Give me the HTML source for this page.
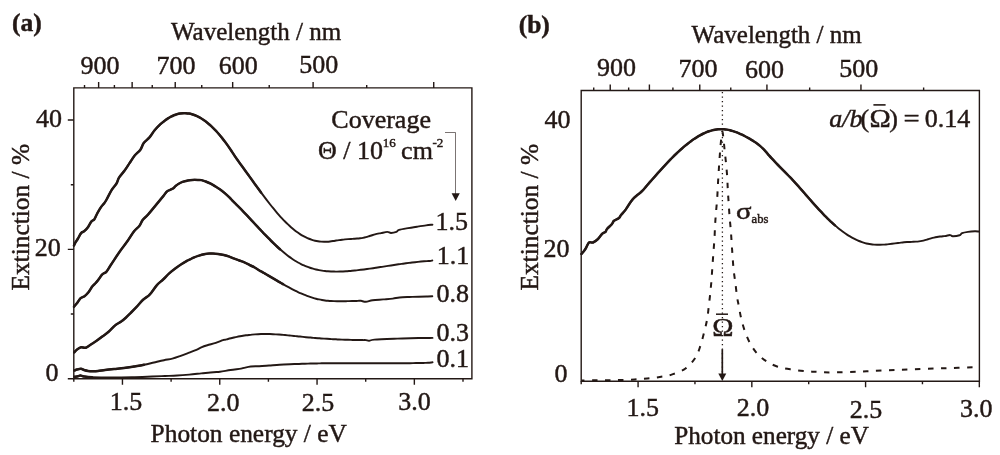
<!DOCTYPE html><html><head><meta charset="utf-8"><style>html,body{margin:0;padding:0;background:#fff;width:1000px;height:455px;overflow:hidden}svg{display:block;-webkit-font-smoothing:antialiased;will-change:transform}text{font-family:"Liberation Serif",serif;fill:#231815;stroke:#231815;stroke-width:0.45px}</style></head><body>
<svg width="1000" height="455" viewBox="0 0 1000 455">
<rect width="1000" height="455" fill="#fff"/>
<text x="11.90" y="30.70" font-size="25.50" font-weight="bold">(a)</text>
<text x="171.00" y="40.00" font-size="25.00">Wavelength / nm</text>
<text x="80.40" y="74.40" font-size="26.00">900</text>
<text x="156.50" y="74.40" font-size="26.00">700</text>
<text x="218.70" y="74.10" font-size="26.00">600</text>
<text x="299.20" y="73.20" font-size="26.00">500</text>
<path d="M73.80,87.90 H471.90 V378.80 H73.80 Z" fill="none" stroke="#231815" stroke-width="1.4"/>
<path d="M84.52,87.90 V84.90 M98.63,87.90 V81.90 M114.40,87.90 V84.90 M132.14,87.90 V81.90 M152.25,87.90 V84.90 M175.23,87.90 V81.90 M201.74,87.90 V84.90 M232.67,87.90 V81.90 M269.23,87.90 V84.90 M313.10,87.90 V81.90 M366.71,87.90 V84.90 M433.73,87.90 V81.90 M73.80,378.80 V381.80 M122.45,378.80 V384.80 M171.10,378.80 V381.80 M219.75,378.80 V384.80 M268.40,378.80 V381.80 M317.05,378.80 V384.80 M365.70,378.80 V381.80 M414.35,378.80 V384.80 M463.00,378.80 V381.80 M73.80,378.75 H67.80 M73.80,314.07 H70.80 M73.80,249.40 H67.80 M73.80,184.72 H70.80 M73.80,120.05 H67.80" fill="none" stroke="#231815" stroke-width="1.4"/>
<text x="36.10" y="127.10" font-size="26.00">40</text>
<text x="34.80" y="256.30" font-size="26.00">20</text>
<text x="45.50" y="381.20" font-size="26.00">0</text>
<text x="109.70" y="410.20" font-size="26.00">1.5</text>
<text x="207.00" y="411.00" font-size="26.00">2.0</text>
<text x="301.80" y="411.00" font-size="26.00">2.5</text>
<text x="398.30" y="409.80" font-size="26.00">3.0</text>
<text x="150.60" y="441.90" font-size="25.40">Photon energy / eV</text>
<text x="0.00" y="0.00" font-size="25.40" transform="translate(28.7,290.6) rotate(-90)">Extinction / %</text>
<path d="M74.00,245.50 C74.27,244.95 74.93,243.37 75.60,242.20 C76.27,241.03 77.08,240.02 78.00,238.50 C78.92,236.98 80.08,234.30 81.10,233.10 C82.12,231.90 83.00,232.22 84.10,231.30 C85.20,230.38 86.50,229.22 87.70,227.60 C88.90,225.98 90.18,223.00 91.30,221.60 C92.42,220.20 93.38,220.62 94.40,219.20 C95.42,217.78 96.30,215.12 97.40,213.10 C98.50,211.08 99.90,208.70 101.00,207.10 C102.10,205.50 103.07,204.77 104.00,203.50 C104.93,202.23 105.33,201.73 106.60,199.50 C107.87,197.27 109.95,192.77 111.60,190.10 C113.25,187.43 115.27,185.57 116.50,183.50 C117.73,181.43 117.62,179.90 119.00,177.70 C120.38,175.50 123.02,172.77 124.80,170.30 C126.58,167.83 128.05,165.37 129.70,162.90 C131.35,160.43 132.92,157.70 134.70,155.50 C136.48,153.30 138.90,151.77 140.40,149.70 C141.90,147.63 142.18,145.15 143.70,143.10 C145.22,141.05 147.68,139.53 149.50,137.40 C151.32,135.27 152.78,132.50 154.60,130.30 C156.42,128.10 158.67,125.83 160.40,124.20 C162.13,122.57 163.73,121.47 165.00,120.50 C166.27,119.53 167.00,119.03 168.00,118.39 C169.00,117.74 170.00,117.16 171.00,116.63 C172.00,116.10 173.00,115.63 174.00,115.22 C175.00,114.81 176.00,114.46 177.00,114.18 C178.00,113.89 179.00,113.66 180.00,113.49 C181.00,113.33 182.00,113.22 183.00,113.17 C184.00,113.12 185.00,113.13 186.00,113.19 C187.00,113.26 188.00,113.38 189.00,113.55 C190.00,113.73 191.00,113.97 192.00,114.25 C193.00,114.54 194.00,114.88 195.00,115.27 C196.00,115.67 197.00,116.12 198.00,116.61 C199.00,117.11 200.00,117.66 201.00,118.26 C202.00,118.87 203.00,119.52 204.00,120.22 C205.00,120.92 206.00,121.67 207.00,122.47 C208.00,123.26 209.00,124.11 210.00,125.00 C211.00,125.89 212.00,126.83 213.00,127.82 C214.00,128.80 215.00,129.83 216.00,130.90 C217.00,131.97 218.00,133.09 219.00,134.25 C220.00,135.41 221.00,136.62 222.00,137.86 C223.00,139.11 224.00,140.40 225.00,141.73 C226.00,143.07 227.00,144.45 228.00,145.87 C229.00,147.29 230.00,148.77 231.00,150.27 C232.00,151.77 233.00,153.37 234.00,154.87 C235.00,156.37 236.00,157.84 237.00,159.28 C238.00,160.71 239.00,162.09 240.00,163.47 C241.00,164.86 242.00,166.21 243.00,167.59 C244.00,168.96 245.00,170.34 246.00,171.72 C247.00,173.10 248.00,174.49 249.00,175.88 C250.00,177.27 251.00,178.66 252.00,180.04 C253.00,181.43 254.00,182.82 255.00,184.20 C256.00,185.58 257.00,186.96 258.00,188.33 C259.00,189.70 260.00,191.06 261.00,192.42 C262.00,193.77 263.00,195.11 264.00,196.44 C265.00,197.77 266.00,199.09 267.00,200.39 C268.00,201.68 269.00,202.97 270.00,204.24 C271.00,205.50 272.00,206.75 273.00,207.97 C274.00,209.20 275.00,210.40 276.00,211.58 C277.00,212.76 278.00,213.91 279.00,215.04 C280.00,216.17 281.00,217.27 282.00,218.34 C283.00,219.41 284.00,220.46 285.00,221.47 C286.00,222.48 287.00,223.46 288.00,224.41 C289.00,225.36 290.00,226.27 291.00,227.15 C292.00,228.03 293.00,228.88 294.00,229.69 C295.00,230.49 296.00,231.26 297.00,232.00 C298.00,232.73 299.00,233.42 300.00,234.07 C301.00,234.72 302.00,235.33 303.00,235.90 C304.00,236.46 305.00,236.98 306.00,237.46 C307.00,237.95 308.00,238.38 309.00,238.78 C310.00,239.18 311.00,239.53 312.00,239.85 C313.00,240.16 314.00,240.44 315.00,240.68 C316.00,240.91 317.00,241.11 318.00,241.27 C319.00,241.43 320.00,241.55 321.00,241.64 C322.00,241.72 323.00,241.77 324.00,241.78 C325.00,241.80 326.00,241.77 327.00,241.72 C328.00,241.66 329.00,241.57 330.00,241.46 C331.00,241.35 332.00,241.20 333.00,241.05 C334.00,240.91 335.00,240.74 336.00,240.58 C337.00,240.43 338.00,240.26 339.00,240.11 C340.00,239.97 341.00,239.83 342.00,239.71 C343.00,239.59 344.00,239.49 345.00,239.40 C346.00,239.30 347.00,239.22 348.00,239.15 C349.00,239.08 350.00,239.01 351.00,238.95 C352.00,238.89 353.00,238.84 354.00,238.78 C355.00,238.72 356.00,238.67 357.00,238.59 C358.00,238.51 359.00,238.43 360.00,238.31 C361.00,238.19 362.00,238.05 363.00,237.86 C364.00,237.67 365.00,237.44 366.00,237.18 C367.00,236.91 368.00,236.59 369.00,236.28 C370.00,235.96 371.00,235.61 372.00,235.29 C373.00,234.97 374.00,234.63 375.00,234.35 C376.00,234.06 377.00,233.79 378.00,233.59 C379.00,233.39 379.45,233.42 381.00,233.13 C382.55,232.85 385.63,231.92 387.30,231.90 C388.97,231.88 389.48,233.00 391.00,233.00 C392.52,233.00 395.05,232.42 396.40,231.90 C397.75,231.38 397.15,230.53 399.10,229.90 C401.05,229.27 405.10,228.63 408.10,228.10 C411.10,227.57 414.10,227.15 417.10,226.70 C420.10,226.25 423.55,225.73 426.10,225.40 C428.65,225.07 431.35,224.82 432.40,224.70" fill="none" stroke="#231815" stroke-width="1.95" stroke-linejoin="round" stroke-linecap="round"/>
<path d="M74.00,245.50 C74.27,244.95 74.93,243.37 75.60,242.20 C76.27,241.03 77.08,240.02 78.00,238.50 C78.92,236.98 80.08,234.30 81.10,233.10 C82.12,231.90 83.00,232.22 84.10,231.30 C85.20,230.38 86.50,229.22 87.70,227.60 C88.90,225.98 90.18,223.00 91.30,221.60 C92.42,220.20 93.38,220.62 94.40,219.20 C95.42,217.78 96.30,215.12 97.40,213.10 C98.50,211.08 99.90,208.70 101.00,207.10 C102.10,205.50 103.07,204.77 104.00,203.50 C104.93,202.23 105.33,201.73 106.60,199.50 C107.87,197.27 109.95,192.77 111.60,190.10 C113.25,187.43 115.27,185.57 116.50,183.50 C117.73,181.43 117.62,179.90 119.00,177.70 C120.38,175.50 123.02,172.77 124.80,170.30 C126.58,167.83 128.05,165.37 129.70,162.90 C131.35,160.43 132.92,157.70 134.70,155.50 C136.48,153.30 138.90,151.77 140.40,149.70 C141.90,147.63 142.18,145.15 143.70,143.10 C145.22,141.05 147.68,139.53 149.50,137.40 C151.32,135.27 152.78,132.50 154.60,130.30 C156.42,128.10 158.67,125.83 160.40,124.20 C162.13,122.57 163.73,121.47 165.00,120.50 C166.27,119.53 167.00,119.03 168.00,118.39 C169.00,117.74 170.00,117.16 171.00,116.63 C172.00,116.10 173.00,115.63 174.00,115.22 C175.00,114.81 176.00,114.46 177.00,114.18 C178.00,113.89 179.00,113.66 180.00,113.49 C181.00,113.33 182.00,113.22 183.00,113.17 C184.00,113.12 185.00,113.13 186.00,113.19 C187.00,113.26 188.00,113.38 189.00,113.55 C190.00,113.73 191.00,113.97 192.00,114.25 C193.00,114.54 194.00,114.88 195.00,115.27 C196.00,115.67 197.00,116.12 198.00,116.61 C199.00,117.11 200.00,117.66 201.00,118.26 C202.00,118.87 203.00,119.52 204.00,120.22 C205.00,120.92 206.00,121.67 207.00,122.47 C208.00,123.26 209.00,124.11 210.00,125.00 C211.00,125.89 212.00,126.83 213.00,127.82 C214.00,128.80 215.00,129.83 216.00,130.90 C217.00,131.97 218.00,133.09 219.00,134.25 C220.00,135.41 221.00,136.62 222.00,137.86 C223.00,139.11 224.00,140.40 225.00,141.73 C226.00,143.07 227.00,144.45 228.00,145.87 C229.00,147.29 230.00,148.77 231.00,150.27 C232.00,151.77 233.00,153.37 234.00,154.87 C235.00,156.37 236.00,157.84 237.00,159.28 C238.00,160.71 239.00,162.09 240.00,163.47 C241.00,164.86 242.00,166.21 243.00,167.59 C244.00,168.96 245.00,170.34 246.00,171.72 C247.00,173.10 248.00,174.49 249.00,175.88 C250.00,177.27 251.00,178.66 252.00,180.04 C253.00,181.43 254.00,182.82 255.00,184.20 C256.00,185.58 257.00,186.96 258.00,188.33 C259.00,189.70 260.00,191.06 261.00,192.42" fill="none" stroke="#231815" stroke-width="2.50" stroke-linejoin="round" stroke-linecap="round"/>
<path d="M74.00,306.70 C74.55,306.05 76.20,304.22 77.30,302.80 C78.40,301.38 79.40,299.30 80.60,298.20 C81.80,297.10 83.18,297.20 84.50,296.20 C85.82,295.20 87.18,293.85 88.50,292.20 C89.82,290.55 91.20,287.83 92.40,286.30 C93.60,284.77 94.70,284.10 95.70,283.00 C96.70,281.90 97.30,281.13 98.40,279.70 C99.50,278.27 100.98,275.72 102.30,274.40 C103.62,273.08 104.97,273.23 106.30,271.80 C107.63,270.37 108.77,268.12 110.30,265.80 C111.83,263.48 113.80,260.45 115.50,257.90 C117.20,255.35 118.58,253.18 120.50,250.50 C122.42,247.82 124.73,245.02 127.00,241.80 C129.27,238.58 132.05,233.83 134.10,231.20 C136.15,228.57 137.85,227.90 139.30,226.00 C140.75,224.10 141.33,221.72 142.80,219.80 C144.27,217.88 145.23,217.78 148.10,214.50 C150.97,211.22 157.43,203.20 160.00,200.10 C162.57,197.00 162.33,197.35 163.50,195.90 C164.67,194.45 165.82,192.45 167.00,191.40 C168.18,190.35 169.53,190.13 170.60,189.60 C171.67,189.07 172.58,188.78 173.40,188.20 C174.22,187.62 174.68,186.80 175.50,186.10 C176.32,185.40 177.13,184.70 178.30,184.00 C179.47,183.30 180.87,182.50 182.50,181.90 C184.13,181.30 186.45,180.73 188.10,180.40 C189.75,180.07 190.75,179.98 192.40,179.90 C194.05,179.82 196.48,179.87 198.00,179.90 C199.52,179.93 200.22,179.83 201.50,180.10 C202.78,180.37 204.17,180.92 205.70,181.50 C207.23,182.08 209.17,182.83 210.70,183.60 C212.23,184.37 213.38,185.17 214.90,186.10 C216.42,187.03 218.17,188.03 219.80,189.20 C221.43,190.37 223.05,191.68 224.70,193.10 C226.35,194.52 228.48,196.51 229.70,197.70 C230.92,198.89 231.12,199.32 232.00,200.23 C232.88,201.13 234.00,202.15 235.00,203.13 C236.00,204.11 237.00,205.11 238.00,206.12 C239.00,207.13 240.00,208.15 241.00,209.18 C242.00,210.22 243.00,211.26 244.00,212.31 C245.00,213.36 246.00,214.42 247.00,215.48 C248.00,216.54 249.00,217.61 250.00,218.68 C251.00,219.75 252.00,220.83 253.00,221.90 C254.00,222.97 255.00,224.05 256.00,225.12 C257.00,226.19 258.00,227.26 259.00,228.33 C260.00,229.39 261.00,230.46 262.00,231.51 C263.00,232.57 264.00,233.62 265.00,234.65 C266.00,235.69 267.00,236.72 268.00,237.74 C269.00,238.76 270.00,239.77 271.00,240.76 C272.00,241.75 273.00,242.73 274.00,243.70 C275.00,244.66 276.00,245.61 277.00,246.54 C278.00,247.46 279.00,248.37 280.00,249.26 C281.00,250.15 282.00,251.02 283.00,251.86 C284.00,252.71 285.00,253.53 286.00,254.32 C287.00,255.12 288.00,255.89 289.00,256.63 C290.00,257.37 291.00,258.08 292.00,258.76 C293.00,259.45 294.00,260.10 295.00,260.72 C296.00,261.34 297.00,261.92 298.00,262.48 C299.00,263.03 300.00,263.56 301.00,264.05 C302.00,264.55 303.00,265.01 304.00,265.45 C305.00,265.89 306.00,266.30 307.00,266.68 C308.00,267.07 309.00,267.42 310.00,267.75 C311.00,268.08 312.00,268.39 313.00,268.67 C314.00,268.95 315.00,269.21 316.00,269.45 C317.00,269.68 318.00,269.89 319.00,270.09 C320.00,270.28 321.00,270.45 322.00,270.60 C323.00,270.76 324.00,270.89 325.00,271.00 C326.00,271.12 327.00,271.21 328.00,271.29 C329.00,271.37 330.00,271.44 331.00,271.49 C332.00,271.53 333.00,271.57 334.00,271.59 C335.00,271.61 336.00,271.61 337.00,271.60 C338.00,271.60 339.00,271.58 340.00,271.55 C341.00,271.52 342.00,271.48 343.00,271.43 C344.00,271.38 345.00,271.32 346.00,271.25 C347.00,271.19 348.00,271.11 349.00,271.03 C350.00,270.95 351.00,270.86 352.00,270.76 C353.00,270.67 354.00,270.57 355.00,270.47 C356.00,270.37 357.00,270.26 358.00,270.14 C359.00,270.03 360.00,269.91 361.00,269.79 C362.00,269.67 363.00,269.55 364.00,269.42 C365.00,269.29 366.00,269.16 367.00,269.02 C368.00,268.89 369.00,268.75 370.00,268.61 C371.00,268.47 372.00,268.33 373.00,268.18 C374.00,268.04 375.00,267.89 376.00,267.74 C377.00,267.59 378.00,267.44 379.00,267.29 C380.00,267.14 381.00,266.99 382.00,266.84 C383.00,266.68 384.00,266.53 385.00,266.38 C386.00,266.22 387.00,266.07 388.00,265.91 C389.00,265.76 390.00,265.61 391.00,265.45 C392.00,265.30 393.00,265.15 394.00,265.00 C395.00,264.85 396.00,264.70 397.00,264.55 C398.00,264.40 399.00,264.26 400.00,264.11 C401.00,263.97 402.00,263.83 403.00,263.69 C404.00,263.55 405.00,263.41 406.00,263.28 C407.00,263.15 408.00,263.02 409.00,262.89 C410.00,262.77 411.00,262.64 412.00,262.52 C413.00,262.40 414.00,262.29 415.00,262.18 C416.00,262.07 417.00,261.96 418.00,261.86 C419.00,261.76 420.00,261.66 421.00,261.57 C422.00,261.48 423.00,261.40 424.00,261.32 C425.00,261.24 426.00,261.17 427.00,261.10 C428.00,261.03 429.12,261.02 430.00,260.92 C430.88,260.82 431.92,260.57 432.30,260.50" fill="none" stroke="#231815" stroke-width="1.95" stroke-linejoin="round" stroke-linecap="round"/>
<path d="M74.00,306.70 C74.55,306.05 76.20,304.22 77.30,302.80 C78.40,301.38 79.40,299.30 80.60,298.20 C81.80,297.10 83.18,297.20 84.50,296.20 C85.82,295.20 87.18,293.85 88.50,292.20 C89.82,290.55 91.20,287.83 92.40,286.30 C93.60,284.77 94.70,284.10 95.70,283.00 C96.70,281.90 97.30,281.13 98.40,279.70 C99.50,278.27 100.98,275.72 102.30,274.40 C103.62,273.08 104.97,273.23 106.30,271.80 C107.63,270.37 108.77,268.12 110.30,265.80 C111.83,263.48 113.80,260.45 115.50,257.90 C117.20,255.35 118.58,253.18 120.50,250.50 C122.42,247.82 124.73,245.02 127.00,241.80 C129.27,238.58 132.05,233.83 134.10,231.20 C136.15,228.57 137.85,227.90 139.30,226.00 C140.75,224.10 141.33,221.72 142.80,219.80 C144.27,217.88 145.23,217.78 148.10,214.50 C150.97,211.22 157.43,203.20 160.00,200.10 C162.57,197.00 162.33,197.35 163.50,195.90 C164.67,194.45 165.82,192.45 167.00,191.40 C168.18,190.35 169.53,190.13 170.60,189.60 C171.67,189.07 172.58,188.78 173.40,188.20 C174.22,187.62 174.68,186.80 175.50,186.10 C176.32,185.40 177.13,184.70 178.30,184.00 C179.47,183.30 180.87,182.50 182.50,181.90 C184.13,181.30 186.45,180.73 188.10,180.40 C189.75,180.07 190.75,179.98 192.40,179.90 C194.05,179.82 196.48,179.87 198.00,179.90 C199.52,179.93 200.22,179.83 201.50,180.10 C202.78,180.37 204.17,180.92 205.70,181.50 C207.23,182.08 209.17,182.83 210.70,183.60 C212.23,184.37 213.38,185.17 214.90,186.10 C216.42,187.03 218.17,188.03 219.80,189.20 C221.43,190.37 223.05,191.68 224.70,193.10 C226.35,194.52 228.48,196.51 229.70,197.70 C230.92,198.89 231.12,199.32 232.00,200.23 C232.88,201.13 234.00,202.15 235.00,203.13 C236.00,204.11 237.00,205.11 238.00,206.12 C239.00,207.13 240.00,208.15 241.00,209.18 C242.00,210.22 243.00,211.26 244.00,212.31 C245.00,213.36 246.00,214.42 247.00,215.48 C248.00,216.54 249.00,217.61 250.00,218.68 C251.00,219.75 252.00,220.83 253.00,221.90 C254.00,222.97 255.00,224.05 256.00,225.12 C257.00,226.19 258.00,227.26 259.00,228.33 C260.00,229.39 261.00,230.46 262.00,231.51 C263.00,232.57 264.00,233.62 265.00,234.65 C266.00,235.69 267.00,236.72 268.00,237.74 C269.00,238.76 270.00,239.77 271.00,240.76 C272.00,241.75 273.00,242.73 274.00,243.70 C275.00,244.66 276.00,245.61 277.00,246.54 C278.00,247.46 279.00,248.37 280.00,249.26" fill="none" stroke="#231815" stroke-width="2.50" stroke-linejoin="round" stroke-linecap="round"/>
<path d="M74.30,352.30 C74.82,351.78 76.25,350.05 77.40,349.20 C78.55,348.35 79.80,347.45 81.20,347.20 C82.60,346.95 84.00,348.27 85.80,347.70 C87.60,347.13 90.20,344.95 92.00,343.80 C93.80,342.65 94.80,342.07 96.60,340.80 C98.40,339.53 100.75,337.75 102.80,336.20 C104.85,334.65 106.85,333.30 108.90,331.50 C110.95,329.70 113.05,327.07 115.10,325.40 C117.15,323.73 119.42,322.78 121.20,321.50 C122.98,320.22 124.25,319.10 125.80,317.70 C127.35,316.30 128.70,314.90 130.50,313.10 C132.30,311.30 134.55,309.08 136.60,306.90 C138.65,304.72 140.75,301.92 142.80,300.00 C144.85,298.08 147.45,296.67 148.90,295.40 C150.35,294.13 150.13,294.15 151.50,292.40 C152.87,290.65 155.17,287.05 157.10,284.90 C159.03,282.75 161.08,281.42 163.10,279.50 C165.12,277.58 167.18,275.22 169.20,273.40 C171.22,271.58 173.18,270.12 175.20,268.60 C177.22,267.08 179.28,265.62 181.30,264.30 C183.32,262.98 185.85,261.52 187.30,260.70 C188.75,259.88 188.85,259.97 190.00,259.40 C191.15,258.83 192.68,257.93 194.20,257.30 C195.72,256.67 197.45,256.10 199.10,255.60 C200.75,255.10 202.45,254.63 204.10,254.30 C205.75,253.97 207.48,253.72 209.00,253.60 C210.52,253.48 211.68,253.53 213.20,253.60 C214.72,253.67 216.33,253.77 218.10,254.00 C219.87,254.23 221.92,254.57 223.80,255.00 C225.68,255.43 227.77,256.03 229.40,256.60 C231.03,257.17 231.95,257.75 233.60,258.40 C235.25,259.05 237.42,259.80 239.30,260.50 C241.18,261.20 243.15,261.83 244.90,262.60 C246.65,263.37 248.17,264.28 249.80,265.10 C251.43,265.92 253.05,266.57 254.70,267.50 C256.35,268.43 258.48,269.97 259.70,270.70 C260.92,271.43 261.12,271.41 262.00,271.90 C262.88,272.39 264.00,273.06 265.00,273.64 C266.00,274.22 267.00,274.81 268.00,275.39 C269.00,275.98 270.00,276.57 271.00,277.16 C272.00,277.75 273.00,278.34 274.00,278.93 C275.00,279.51 276.00,280.10 277.00,280.69 C278.00,281.27 279.00,281.85 280.00,282.43 C281.00,283.00 282.00,283.58 283.00,284.14 C284.00,284.71 285.00,285.27 286.00,285.82 C287.00,286.37 288.00,286.92 289.00,287.46 C290.00,287.99 291.00,288.52 292.00,289.04 C293.00,289.55 294.00,290.06 295.00,290.56 C296.00,291.05 297.00,291.54 298.00,292.01 C299.00,292.48 300.00,292.93 301.00,293.37 C302.00,293.82 303.00,294.24 304.00,294.66 C305.00,295.07 306.00,295.46 307.00,295.84 C308.00,296.21 309.00,296.57 310.00,296.91 C311.00,297.25 312.00,297.57 313.00,297.87 C314.00,298.17 315.00,298.45 316.00,298.71 C317.00,298.96 318.00,299.20 319.00,299.41 C320.00,299.62 321.00,299.81 322.00,299.98 C323.00,300.14 324.00,300.29 325.00,300.42 C326.00,300.55 327.00,300.65 328.00,300.75 C329.00,300.84 330.00,300.92 331.00,300.98 C332.00,301.04 333.00,301.09 334.00,301.13 C335.00,301.17 336.00,301.19 337.00,301.21 C338.00,301.23 339.00,301.23 340.00,301.24 C341.00,301.24 342.00,301.23 343.00,301.22 C344.00,301.21 345.00,301.19 346.00,301.17 C347.00,301.15 348.00,301.13 349.00,301.11 C350.00,301.09 351.00,301.07 352.00,301.04 C353.00,301.02 354.00,301.00 355.00,300.98 C356.00,300.95 357.00,300.93 358.00,300.90 C359.00,300.88 359.68,300.67 361.00,300.82 C362.32,300.97 363.97,301.90 365.90,301.80 C367.83,301.70 369.72,300.60 372.60,300.20 C375.48,299.80 379.83,299.67 383.20,299.40 C386.57,299.13 390.08,298.92 392.80,298.60 C395.52,298.28 396.78,297.77 399.50,297.50 C402.22,297.23 405.90,297.13 409.10,297.00 C412.30,296.87 415.82,296.78 418.70,296.70 C421.58,296.62 424.13,296.57 426.40,296.50 C428.67,296.43 431.32,296.33 432.30,296.30" fill="none" stroke="#231815" stroke-width="1.95" stroke-linejoin="round" stroke-linecap="round"/>
<path d="M74.30,352.30 C74.82,351.78 76.25,350.05 77.40,349.20 C78.55,348.35 79.80,347.45 81.20,347.20 C82.60,346.95 84.00,348.27 85.80,347.70 C87.60,347.13 90.20,344.95 92.00,343.80 C93.80,342.65 94.80,342.07 96.60,340.80 C98.40,339.53 100.75,337.75 102.80,336.20 C104.85,334.65 106.85,333.30 108.90,331.50 C110.95,329.70 113.05,327.07 115.10,325.40 C117.15,323.73 119.42,322.78 121.20,321.50 C122.98,320.22 124.25,319.10 125.80,317.70 C127.35,316.30 128.70,314.90 130.50,313.10 C132.30,311.30 134.55,309.08 136.60,306.90 C138.65,304.72 140.75,301.92 142.80,300.00 C144.85,298.08 147.45,296.67 148.90,295.40 C150.35,294.13 150.13,294.15 151.50,292.40 C152.87,290.65 155.17,287.05 157.10,284.90 C159.03,282.75 161.08,281.42 163.10,279.50 C165.12,277.58 167.18,275.22 169.20,273.40 C171.22,271.58 173.18,270.12 175.20,268.60 C177.22,267.08 179.28,265.62 181.30,264.30 C183.32,262.98 185.85,261.52 187.30,260.70 C188.75,259.88 188.85,259.97 190.00,259.40 C191.15,258.83 192.68,257.93 194.20,257.30 C195.72,256.67 197.45,256.10 199.10,255.60 C200.75,255.10 202.45,254.63 204.10,254.30 C205.75,253.97 207.48,253.72 209.00,253.60 C210.52,253.48 211.68,253.53 213.20,253.60 C214.72,253.67 216.33,253.77 218.10,254.00 C219.87,254.23 221.92,254.57 223.80,255.00 C225.68,255.43 227.77,256.03 229.40,256.60 C231.03,257.17 231.95,257.75 233.60,258.40 C235.25,259.05 237.42,259.80 239.30,260.50 C241.18,261.20 243.15,261.83 244.90,262.60 C246.65,263.37 248.17,264.28 249.80,265.10 C251.43,265.92 253.05,266.57 254.70,267.50 C256.35,268.43 258.48,269.97 259.70,270.70 C260.92,271.43 261.12,271.41 262.00,271.90 C262.88,272.39 264.00,273.06 265.00,273.64 C266.00,274.22 267.00,274.81 268.00,275.39 C269.00,275.98 270.00,276.57 271.00,277.16 C272.00,277.75 273.00,278.34 274.00,278.93 C275.00,279.51 276.00,280.10 277.00,280.69 C278.00,281.27 279.00,281.85 280.00,282.43 C281.00,283.00 282.00,283.58 283.00,284.14" fill="none" stroke="#231815" stroke-width="2.50" stroke-linejoin="round" stroke-linecap="round"/>
<path d="M74.50,370.50 C74.92,370.33 75.92,369.78 77.00,369.50 C78.08,369.22 79.83,368.72 81.00,368.80 C82.17,368.88 82.83,369.63 84.00,370.00 C85.17,370.37 86.50,370.80 88.00,371.00 C89.50,371.20 91.33,371.20 93.00,371.20 C94.67,371.20 96.00,371.20 98.00,371.00 C100.00,370.80 102.33,370.33 105.00,370.00 C107.67,369.67 110.83,369.33 114.00,369.00 C117.17,368.67 120.67,368.42 124.00,368.00 C127.33,367.58 130.67,367.03 134.00,366.50 C137.33,365.97 140.67,365.47 144.00,364.80 C147.33,364.13 150.67,363.27 154.00,362.50 C157.33,361.73 160.95,360.85 164.00,360.20 C167.05,359.55 169.52,359.33 172.30,358.60 C175.08,357.87 177.88,356.80 180.70,355.80 C183.52,354.80 186.58,353.60 189.20,352.60 C191.82,351.60 194.38,350.67 196.40,349.80 C198.42,348.93 199.48,348.15 201.30,347.40 C203.12,346.65 204.88,346.05 207.30,345.30 C209.72,344.55 213.18,343.77 215.80,342.90 C218.42,342.03 221.47,340.62 223.00,340.10 C224.53,339.58 224.17,339.99 225.00,339.81 C225.83,339.62 227.00,339.26 228.00,339.00 C229.00,338.74 230.00,338.49 231.00,338.25 C232.00,338.01 233.00,337.78 234.00,337.55 C235.00,337.33 236.00,337.11 237.00,336.91 C238.00,336.70 239.00,336.51 240.00,336.32 C241.00,336.14 242.00,335.96 243.00,335.80 C244.00,335.63 245.00,335.48 246.00,335.34 C247.00,335.19 248.00,335.06 249.00,334.94 C250.00,334.82 251.00,334.71 252.00,334.61 C253.00,334.51 254.00,334.42 255.00,334.35 C256.00,334.28 257.00,334.21 258.00,334.16 C259.00,334.11 260.00,334.08 261.00,334.05 C262.00,334.02 263.00,334.01 264.00,334.00 C265.00,334.00 266.00,334.00 267.00,334.02 C268.00,334.03 269.00,334.05 270.00,334.08 C271.00,334.12 272.00,334.16 273.00,334.20 C274.00,334.25 275.00,334.31 276.00,334.37 C277.00,334.43 278.00,334.50 279.00,334.57 C280.00,334.64 281.00,334.72 282.00,334.80 C283.00,334.89 284.00,334.97 285.00,335.07 C286.00,335.16 287.00,335.25 288.00,335.35 C289.00,335.45 290.00,335.55 291.00,335.65 C292.00,335.75 293.00,335.85 294.00,335.96 C295.00,336.06 296.00,336.17 297.00,336.27 C298.00,336.37 299.00,336.48 300.00,336.58 C301.00,336.69 302.00,336.79 303.00,336.89 C304.00,336.99 305.00,337.09 306.00,337.18 C307.00,337.28 308.00,337.37 309.00,337.46 C310.00,337.55 311.00,337.64 312.00,337.73 C313.00,337.81 314.00,337.90 315.00,337.98 C316.00,338.06 317.00,338.14 318.00,338.21 C319.00,338.29 320.00,338.36 321.00,338.44 C322.00,338.51 323.00,338.58 324.00,338.64 C325.00,338.71 326.00,338.78 327.00,338.84 C328.00,338.90 329.00,338.96 330.00,339.02 C331.00,339.08 332.00,339.13 333.00,339.19 C334.00,339.24 335.00,339.29 336.00,339.34 C337.00,339.39 338.00,339.43 339.00,339.48 C340.00,339.52 341.00,339.56 342.00,339.60 C343.00,339.64 344.00,339.68 345.00,339.71 C346.00,339.75 347.00,339.78 348.00,339.81 C349.00,339.84 350.00,339.87 351.00,339.90 C352.00,339.92 353.00,339.95 354.00,339.97 C355.00,339.99 356.00,340.01 357.00,340.03 C358.00,340.04 359.00,340.06 360.00,340.07 C361.00,340.08 362.00,340.09 363.00,340.10 C364.00,340.11 364.97,340.00 366.00,340.12 C367.03,340.24 367.80,340.89 369.20,340.80 C370.60,340.71 369.72,339.97 374.40,339.60 C379.08,339.23 389.95,338.87 397.30,338.60 C404.65,338.33 412.63,338.12 418.50,338.00 C424.37,337.88 430.17,337.92 432.50,337.90" fill="none" stroke="#231815" stroke-width="1.95" stroke-linejoin="round" stroke-linecap="round"/>
<path d="M74.50,370.50 C74.92,370.33 75.92,369.78 77.00,369.50 C78.08,369.22 79.83,368.72 81.00,368.80 C82.17,368.88 82.83,369.63 84.00,370.00 C85.17,370.37 86.50,370.80 88.00,371.00 C89.50,371.20 91.33,371.20 93.00,371.20 C94.67,371.20 96.00,371.20 98.00,371.00 C100.00,370.80 102.33,370.33 105.00,370.00 C107.67,369.67 110.83,369.33 114.00,369.00 C117.17,368.67 120.67,368.42 124.00,368.00 C127.33,367.58 130.67,367.03 134.00,366.50 C137.33,365.97 140.67,365.47 144.00,364.80" fill="none" stroke="#231815" stroke-width="2.50" stroke-linejoin="round" stroke-linecap="round"/>
<path d="M74.50,376.80 C75.08,376.70 77.00,376.42 78.00,376.20 C79.00,375.98 79.50,375.45 80.50,375.50 C81.50,375.55 82.08,376.22 84.00,376.50 C85.92,376.78 87.33,377.03 92.00,377.20 C96.67,377.37 105.33,377.50 112.00,377.50 C118.67,377.50 125.33,377.37 132.00,377.20 C138.67,377.03 146.50,376.70 152.00,376.50 C157.50,376.30 160.82,376.17 165.00,376.00 C169.18,375.83 173.07,375.73 177.10,375.50 C181.13,375.27 185.17,374.95 189.20,374.60 C193.23,374.25 197.27,373.80 201.30,373.40 C205.33,373.00 210.28,372.47 213.40,372.20 C216.52,371.93 217.15,372.17 220.00,371.80 C222.85,371.43 227.00,370.53 230.50,370.00 C234.00,369.47 238.78,368.95 241.00,368.60 C243.22,368.25 242.17,368.25 243.80,367.90 C245.43,367.55 248.23,366.78 250.80,366.50 C253.37,366.22 256.17,366.37 259.20,366.20 C262.23,366.03 265.62,365.75 269.00,365.50 C272.38,365.25 276.00,364.92 279.50,364.70 C283.00,364.48 287.25,364.31 290.00,364.20 C292.75,364.09 294.50,364.11 296.00,364.07 C297.50,364.02 298.00,363.98 299.00,363.94 C300.00,363.90 301.00,363.86 302.00,363.83 C303.00,363.79 304.00,363.76 305.00,363.73 C306.00,363.69 307.00,363.66 308.00,363.63 C309.00,363.61 310.00,363.58 311.00,363.55 C312.00,363.53 313.00,363.50 314.00,363.48 C315.00,363.46 316.00,363.44 317.00,363.42 C318.00,363.40 319.00,363.38 320.00,363.36 C321.00,363.35 322.00,363.33 323.00,363.32 C324.00,363.30 325.00,363.29 326.00,363.28 C327.00,363.26 328.00,363.25 329.00,363.24 C330.00,363.23 331.00,363.23 332.00,363.22 C333.00,363.21 334.00,363.20 335.00,363.20 C336.00,363.19 337.00,363.19 338.00,363.18 C339.00,363.18 340.00,363.18 341.00,363.17 C342.00,363.17 343.00,363.17 344.00,363.17 C345.00,363.17 346.00,363.17 347.00,363.17 C348.00,363.17 349.00,363.17 350.00,363.17 C351.00,363.17 352.00,363.17 353.00,363.18 C354.00,363.18 355.00,363.18 356.00,363.18 C357.00,363.19 358.00,363.19 359.00,363.19 C360.00,363.20 361.00,363.20 362.00,363.21 C363.00,363.21 364.00,363.21 365.00,363.22 C366.00,363.22 367.00,363.23 368.00,363.23 C369.00,363.23 370.00,363.24 371.00,363.24 C372.00,363.25 373.00,363.25 374.00,363.26 C375.00,363.26 376.00,363.26 377.00,363.27 C378.00,363.27 379.00,363.27 380.00,363.28 C381.00,363.28 382.00,363.28 383.00,363.28 C384.00,363.29 385.00,363.29 386.00,363.29 C387.00,363.29 388.00,363.29 389.00,363.29 C390.00,363.29 391.00,363.29 392.00,363.29 C393.00,363.29 394.00,363.29 395.00,363.28 C396.00,363.28 397.00,363.28 398.00,363.27 C399.00,363.27 400.00,363.26 401.00,363.26 C402.00,363.25 403.00,363.24 404.00,363.24 C405.00,363.23 406.00,363.22 407.00,363.21 C408.00,363.20 409.00,363.19 410.00,363.18 C411.00,363.16 412.00,363.15 413.00,363.14 C414.00,363.12 415.00,363.10 416.00,363.09 C417.00,363.07 418.00,363.05 419.00,363.03 C420.00,363.01 421.00,362.99 422.00,362.97 C423.00,362.94 424.00,362.92 425.00,362.89 C426.00,362.87 426.75,362.91 428.00,362.81 C429.25,362.71 431.75,362.38 432.50,362.30" fill="none" stroke="#231815" stroke-width="1.95" stroke-linejoin="round" stroke-linecap="round"/>
<path d="M74.50,376.80 C75.08,376.70 77.00,376.42 78.00,376.20 C79.00,375.98 79.50,375.45 80.50,375.50 C81.50,375.55 82.08,376.22 84.00,376.50 C85.92,376.78 87.33,377.03 92.00,377.20" fill="none" stroke="#231815" stroke-width="2.50" stroke-linejoin="round" stroke-linecap="round"/>
<text x="435.60" y="229.50" font-size="26.00">1.5</text>
<text x="436.80" y="264.30" font-size="26.00">1.1</text>
<text x="436.60" y="301.50" font-size="26.00">0.8</text>
<text x="436.60" y="341.20" font-size="26.00">0.3</text>
<text x="436.60" y="367.40" font-size="26.00">0.1</text>
<text x="331.30" y="128.40" font-size="26.00">Coverage</text>
<text x="318.00" y="159.00" font-size="26.00">&#920; / 10</text>
<text x="382.80" y="146.50" font-size="13.00">16</text>
<text x="401.10" y="159.00" font-size="26.00">cm</text>
<text x="432.40" y="146.50" font-size="13.00">-2</text>
<path d="M445,132.5 H455.5 V194" fill="none" stroke="#231815" stroke-width="1" opacity="0.6"/>
<path d="M451.6,193.2 L459.8,193.2 L455.7,201 Z" fill="#231815"/>
<text x="518.70" y="32.70" font-size="25.50" font-weight="bold">(b)</text>
<text x="691.60" y="43.00" font-size="25.00">Wavelength / nm</text>
<text x="597.00" y="76.00" font-size="26.00">900</text>
<text x="678.40" y="76.60" font-size="26.00">700</text>
<text x="745.10" y="77.90" font-size="26.00">600</text>
<text x="839.30" y="76.60" font-size="26.00">500</text>
<path d="M581.20,90.50 H979.40 V381.20 H581.20 Z" fill="none" stroke="#231815" stroke-width="1.4"/>
<path d="M593.73,90.50 V87.50 M610.23,90.50 V84.50 M628.66,90.50 V87.50 M649.40,90.50 V84.50 M672.91,90.50 V87.50 M699.77,90.50 V84.50 M730.77,90.50 V87.50 M766.93,90.50 V84.50 M809.67,90.50 V87.50 M860.95,90.50 V84.50 M923.63,90.50 V87.50 M581.20,381.20 V384.20 M638.08,381.20 V387.20 M694.95,381.20 V384.20 M751.83,381.20 V387.20 M808.70,381.20 V384.20 M865.58,381.20 V387.20 M922.45,381.20 V384.20 M979.33,381.20 V387.20" fill="none" stroke="#231815" stroke-width="1.4"/>
<text x="544.60" y="127.70" font-size="26.00">40</text>
<text x="543.60" y="256.50" font-size="26.00">20</text>
<text x="554.50" y="381.50" font-size="26.00">0</text>
<text x="626.40" y="415.60" font-size="26.00">1.5</text>
<text x="736.70" y="416.10" font-size="26.00">2.0</text>
<text x="849.80" y="417.90" font-size="26.00">2.5</text>
<text x="960.10" y="417.00" font-size="26.00">3.0</text>
<text x="674.20" y="443.60" font-size="25.20">Photon energy / eV</text>
<text x="0.00" y="0.00" font-size="25.40" transform="translate(537.7,290.6) rotate(-90)">Extinction / %</text>
<path d="M722.4,92 V380" fill="none" stroke="#231815" stroke-width="1.3" stroke-dasharray="1.3 3.2"/>
<path d="M581.50,254.00 C581.92,253.50 583.25,252.00 584.00,251.00 C584.75,250.00 585.17,249.42 586.00,248.00 C586.83,246.58 587.83,243.42 589.00,242.50 C590.17,241.58 591.50,243.08 593.00,242.50 C594.50,241.92 596.50,240.42 598.00,239.00 C599.50,237.58 600.75,235.20 602.00,234.00 C603.25,232.80 604.67,232.63 605.50,231.80 C606.33,230.97 605.92,230.30 607.00,229.00 C608.08,227.70 610.83,225.37 612.00,224.00 C613.17,222.63 612.83,221.80 614.00,220.80 C615.17,219.80 617.83,218.97 619.00,218.00 C620.17,217.03 620.00,216.25 621.00,215.00 C622.00,213.75 623.83,212.00 625.00,210.50 C626.17,209.00 627.00,207.48 628.00,206.00 C629.00,204.52 630.00,202.96 631.00,201.61 C632.00,200.26 633.00,198.96 634.00,197.90 C635.00,196.85 636.00,196.09 637.00,195.27 C638.00,194.45 639.00,193.84 640.00,192.99 C641.00,192.13 642.00,191.21 643.00,190.15 C644.00,189.09 645.00,187.82 646.00,186.64 C647.00,185.47 648.00,184.28 649.00,183.12 C650.00,181.96 651.00,180.84 652.00,179.70 C653.00,178.56 654.00,177.43 655.00,176.31 C656.00,175.18 657.00,174.05 658.00,172.93 C659.00,171.82 660.00,170.70 661.00,169.60 C662.00,168.50 663.00,167.41 664.00,166.32 C665.00,165.24 666.00,164.17 667.00,163.11 C668.00,162.06 669.00,161.01 670.00,159.98 C671.00,158.95 672.00,157.93 673.00,156.94 C674.00,155.94 675.00,154.95 676.00,153.99 C677.00,153.03 678.00,152.08 679.00,151.16 C680.00,150.23 681.00,149.32 682.00,148.44 C683.00,147.56 684.00,146.70 685.00,145.86 C686.00,145.02 687.00,144.21 688.00,143.42 C689.00,142.63 690.00,141.87 691.00,141.14 C692.00,140.40 693.00,139.69 694.00,139.01 C695.00,138.34 696.00,137.69 697.00,137.07 C698.00,136.45 699.00,135.86 700.00,135.31 C701.00,134.76 702.00,134.23 703.00,133.75 C704.00,133.26 705.00,132.81 706.00,132.40 C707.00,131.98 708.00,131.60 709.00,131.26 C710.00,130.92 711.00,130.62 712.00,130.36 C713.00,130.10 714.00,129.87 715.00,129.69 C716.00,129.51 717.00,129.37 718.00,129.28 C719.00,129.19 720.00,129.14 721.00,129.13 C722.00,129.13 723.00,129.17 724.00,129.25 C725.00,129.34 726.00,129.47 727.00,129.64 C728.00,129.80 729.00,130.01 730.00,130.26 C731.00,130.50 732.00,130.78 733.00,131.10 C734.00,131.41 735.00,131.76 736.00,132.13 C737.00,132.51 738.00,132.92 739.00,133.35 C740.00,133.79 741.00,134.25 742.00,134.73 C743.00,135.22 744.00,135.73 745.00,136.26 C746.00,136.78 747.00,137.33 748.00,137.90 C749.00,138.46 750.00,139.04 751.00,139.64 C752.00,140.24 753.00,140.84 754.00,141.49 C755.00,142.13 756.00,142.79 757.00,143.53 C758.00,144.26 759.00,145.02 760.00,145.87 C761.00,146.72 762.00,147.63 763.00,148.63 C764.00,149.64 765.00,150.77 766.00,151.90 C767.00,153.02 768.00,154.23 769.00,155.37 C770.00,156.51 771.00,157.62 772.00,158.71 C773.00,159.80 774.00,160.86 775.00,161.90 C776.00,162.95 777.00,163.98 778.00,165.00 C779.00,166.02 780.00,167.02 781.00,168.03 C782.00,169.04 783.00,170.03 784.00,171.04 C785.00,172.05 786.00,173.05 787.00,174.07 C788.00,175.09 789.00,176.12 790.00,177.17 C791.00,178.21 792.00,179.28 793.00,180.35 C794.00,181.43 795.00,182.53 796.00,183.63 C797.00,184.74 798.00,185.86 799.00,186.98 C800.00,188.10 801.00,189.24 802.00,190.38 C803.00,191.52 804.00,192.66 805.00,193.80 C806.00,194.95 807.00,196.10 808.00,197.24 C809.00,198.38 810.00,199.53 811.00,200.67 C812.00,201.80 813.00,202.94 814.00,204.06 C815.00,205.18 816.00,206.30 817.00,207.40 C818.00,208.50 819.00,209.60 820.00,210.67 C821.00,211.75 822.00,212.81 823.00,213.85 C824.00,214.89 825.00,215.92 826.00,216.92 C827.00,217.92 828.00,218.90 829.00,219.87 C830.00,220.83 831.00,221.77 832.00,222.69 C833.00,223.60 834.00,224.50 835.00,225.37 C836.00,226.24 837.00,227.09 838.00,227.91 C839.00,228.73 840.00,229.53 841.00,230.29 C842.00,231.06 843.00,231.81 844.00,232.52 C845.00,233.24 846.00,233.92 847.00,234.58 C848.00,235.24 849.00,235.87 850.00,236.46 C851.00,237.06 852.00,237.63 853.00,238.16 C854.00,238.70 855.00,239.21 856.00,239.68 C857.00,240.15 858.00,240.60 859.00,241.01 C860.00,241.42 861.00,241.79 862.00,242.14 C863.00,242.48 864.00,242.79 865.00,243.07 C866.00,243.35 867.00,243.59 868.00,243.80 C869.00,244.01 870.00,244.18 871.00,244.32 C872.00,244.46 873.00,244.56 874.00,244.64 C875.00,244.72 876.00,244.76 877.00,244.78 C878.00,244.81 879.00,244.80 880.00,244.78 C881.00,244.75 882.00,244.70 883.00,244.64 C884.00,244.58 885.00,244.50 886.00,244.41 C887.00,244.32 888.00,244.21 889.00,244.10 C890.00,243.98 891.00,243.86 892.00,243.74 C893.00,243.61 894.00,243.48 895.00,243.35 C896.00,243.22 897.00,243.09 898.00,242.97 C899.00,242.84 900.00,242.72 901.00,242.61 C902.00,242.50 903.00,242.40 904.00,242.31 C905.00,242.22 906.00,242.14 907.00,242.08 C908.00,242.02 909.00,241.98 910.00,241.94 C911.00,241.89 912.00,241.86 913.00,241.82 C914.00,241.77 915.00,241.72 916.00,241.65 C917.00,241.57 918.00,241.48 919.00,241.35 C920.00,241.22 921.00,241.07 922.00,240.87 C923.00,240.66 924.00,240.41 925.00,240.14 C926.00,239.87 927.00,239.56 928.00,239.27 C929.00,238.98 930.00,238.66 931.00,238.39 C932.00,238.11 933.00,237.85 934.00,237.62 C935.00,237.39 936.00,237.19 937.00,237.01 C938.00,236.83 939.00,236.68 940.00,236.54 C941.00,236.41 942.00,236.29 943.00,236.19 C944.00,236.08 944.80,236.10 946.00,235.92 C947.20,235.74 949.08,235.05 950.20,235.10 C951.32,235.15 951.15,236.17 952.70,236.20 C954.25,236.23 957.93,235.80 959.50,235.30 C961.07,234.80 960.68,233.77 962.10,233.20 C963.52,232.63 965.88,232.22 968.00,231.90 C970.12,231.58 972.97,231.37 974.80,231.30 C976.63,231.23 978.30,231.47 979.00,231.50" fill="none" stroke="#231815" stroke-width="1.95" stroke-linejoin="round" stroke-linecap="round"/>
<path d="M581.50,254.00 C581.92,253.50 583.25,252.00 584.00,251.00 C584.75,250.00 585.17,249.42 586.00,248.00 C586.83,246.58 587.83,243.42 589.00,242.50 C590.17,241.58 591.50,243.08 593.00,242.50 C594.50,241.92 596.50,240.42 598.00,239.00 C599.50,237.58 600.75,235.20 602.00,234.00 C603.25,232.80 604.67,232.63 605.50,231.80 C606.33,230.97 605.92,230.30 607.00,229.00 C608.08,227.70 610.83,225.37 612.00,224.00 C613.17,222.63 612.83,221.80 614.00,220.80 C615.17,219.80 617.83,218.97 619.00,218.00 C620.17,217.03 620.00,216.25 621.00,215.00 C622.00,213.75 623.83,212.00 625.00,210.50 C626.17,209.00 627.00,207.48 628.00,206.00 C629.00,204.52 630.00,202.96 631.00,201.61 C632.00,200.26 633.00,198.96 634.00,197.90 C635.00,196.85 636.00,196.09 637.00,195.27 C638.00,194.45 639.00,193.84 640.00,192.99 C641.00,192.13 642.00,191.21 643.00,190.15 C644.00,189.09 645.00,187.82 646.00,186.64 C647.00,185.47 648.00,184.28 649.00,183.12 C650.00,181.96 651.00,180.84 652.00,179.70 C653.00,178.56 654.00,177.43 655.00,176.31 C656.00,175.18 657.00,174.05 658.00,172.93 C659.00,171.82 660.00,170.70 661.00,169.60 C662.00,168.50 663.00,167.41 664.00,166.32 C665.00,165.24 666.00,164.17 667.00,163.11 C668.00,162.06 669.00,161.01 670.00,159.98 C671.00,158.95 672.00,157.93 673.00,156.94 C674.00,155.94 675.00,154.95 676.00,153.99 C677.00,153.03 678.00,152.08 679.00,151.16 C680.00,150.23 681.00,149.32 682.00,148.44 C683.00,147.56 684.00,146.70 685.00,145.86 C686.00,145.02 687.00,144.21 688.00,143.42 C689.00,142.63 690.00,141.87 691.00,141.14 C692.00,140.40 693.00,139.69 694.00,139.01 C695.00,138.34 696.00,137.69 697.00,137.07 C698.00,136.45 699.00,135.86 700.00,135.31 C701.00,134.76 702.00,134.23 703.00,133.75 C704.00,133.26 705.00,132.81 706.00,132.40 C707.00,131.98 708.00,131.60 709.00,131.26 C710.00,130.92 711.00,130.62 712.00,130.36 C713.00,130.10 714.00,129.87 715.00,129.69 C716.00,129.51 717.00,129.37 718.00,129.28 C719.00,129.19 720.00,129.14 721.00,129.13 C722.00,129.13 723.00,129.17 724.00,129.25 C725.00,129.34 726.00,129.47 727.00,129.64 C728.00,129.80 729.00,130.01 730.00,130.26 C731.00,130.50 732.00,130.78 733.00,131.10 C734.00,131.41 735.00,131.76 736.00,132.13 C737.00,132.51 738.00,132.92 739.00,133.35 C740.00,133.79 741.00,134.25 742.00,134.73 C743.00,135.22 744.00,135.73 745.00,136.26 C746.00,136.78 747.00,137.33 748.00,137.90 C749.00,138.46 750.00,139.04 751.00,139.64 C752.00,140.24 753.00,140.84 754.00,141.49 C755.00,142.13 756.00,142.79 757.00,143.53 C758.00,144.26 759.00,145.02 760.00,145.87 C761.00,146.72 762.00,147.63 763.00,148.63 C764.00,149.64 765.00,150.77 766.00,151.90 C767.00,153.02 768.00,154.23 769.00,155.37 C770.00,156.51 771.00,157.62 772.00,158.71 C773.00,159.80 774.00,160.86 775.00,161.90 C776.00,162.95 777.00,163.98 778.00,165.00 C779.00,166.02 780.00,167.02 781.00,168.03 C782.00,169.04 783.00,170.03 784.00,171.04 C785.00,172.05 786.00,173.05 787.00,174.07 C788.00,175.09 789.00,176.12 790.00,177.17 C791.00,178.21 792.00,179.28 793.00,180.35 C794.00,181.43 795.00,182.53 796.00,183.63 C797.00,184.74 798.00,185.86 799.00,186.98 C800.00,188.10 801.00,189.24 802.00,190.38 C803.00,191.52 804.00,192.66 805.00,193.80 C806.00,194.95 807.00,196.10 808.00,197.24 C809.00,198.38 810.00,199.53 811.00,200.67 C812.00,201.80 813.00,202.94 814.00,204.06 C815.00,205.18 816.00,206.30 817.00,207.40 C818.00,208.50 819.00,209.60 820.00,210.67 C821.00,211.75 822.00,212.81 823.00,213.85 C824.00,214.89 825.00,215.92 826.00,216.92 C827.00,217.92 828.00,218.90 829.00,219.87 C830.00,220.83 831.00,221.77 832.00,222.69 C833.00,223.60 834.00,224.50 835.00,225.37" fill="none" stroke="#231815" stroke-width="2.50" stroke-linejoin="round" stroke-linecap="round"/>
<path d="M581.50,380.50 C583.75,380.45 590.58,380.25 595.00,380.20 C599.42,380.15 603.67,380.23 608.00,380.20 C612.33,380.17 616.58,380.12 621.00,380.00 C625.42,379.88 630.13,379.77 634.50,379.50 C638.87,379.23 642.98,378.82 647.20,378.40 C651.42,377.98 655.62,377.67 659.80,377.00 C663.98,376.33 668.02,375.82 672.30,374.40 C676.58,372.98 681.67,371.25 685.50,368.50 C689.33,365.75 692.83,361.63 695.30,357.90 C697.77,354.17 698.80,350.48 700.30,346.10 C701.80,341.72 703.15,336.13 704.30,331.60 C705.45,327.07 706.43,323.33 707.20,318.90 C707.97,314.47 708.37,309.48 708.90,305.00 C709.43,300.52 709.95,296.40 710.40,292.00 C710.85,287.60 711.25,283.08 711.60,278.60 C711.95,274.12 712.18,269.63 712.50,265.10 C712.82,260.57 713.17,255.90 713.50,251.40 C713.83,246.90 714.23,242.53 714.50,238.10 C714.77,233.67 714.85,229.08 715.10,224.80 C715.35,220.52 715.65,216.85 716.00,212.40 C716.35,207.95 716.88,202.70 717.20,198.10 C717.52,193.50 717.65,189.23 717.90,184.80 C718.15,180.37 718.42,175.97 718.70,171.50 C718.98,167.03 719.28,162.42 719.60,158.00 C719.92,153.58 720.27,148.67 720.60,145.00 C720.93,141.33 721.30,138.23 721.60,136.00 C721.90,133.77 722.08,131.10 722.40,131.60 C722.72,132.10 723.13,135.93 723.50,139.00 C723.87,142.07 724.18,146.00 724.60,150.00 C725.02,154.00 725.57,158.52 726.00,163.00 C726.43,167.48 726.90,172.42 727.20,176.90 C727.50,181.38 727.55,185.47 727.80,189.90 C728.05,194.33 728.40,198.98 728.70,203.50 C729.00,208.02 729.25,212.55 729.60,217.00 C729.95,221.45 730.45,225.78 730.80,230.20 C731.15,234.62 731.40,239.07 731.70,243.50 C732.00,247.93 732.27,252.28 732.60,256.80 C732.93,261.32 733.22,266.08 733.70,270.60 C734.18,275.12 734.93,279.47 735.50,283.90 C736.07,288.33 736.58,293.68 737.10,297.20 C737.62,300.72 737.95,301.60 738.60,305.00 C739.25,308.40 739.97,313.27 741.00,317.60 C742.03,321.93 743.20,326.55 744.80,331.00 C746.40,335.45 748.38,340.37 750.60,344.30 C752.82,348.23 755.40,351.73 758.10,354.60 C760.80,357.47 763.53,359.48 766.80,361.50 C770.07,363.52 773.60,365.37 777.70,366.70 C781.80,368.03 786.70,368.75 791.40,369.50 C796.10,370.25 801.57,370.80 805.90,371.20 C810.23,371.60 813.12,371.70 817.40,371.90 C821.68,372.10 824.83,372.43 831.60,372.40 C838.37,372.37 849.20,372.03 858.00,371.70 C866.80,371.37 875.23,370.80 884.40,370.40 C893.57,370.00 902.73,369.67 913.00,369.30 C923.27,368.93 935.00,368.58 946.00,368.20 C957.00,367.82 973.50,367.20 979.00,367.00" fill="none" stroke="#231815" stroke-width="2" stroke-dasharray="5.5 7.5" stroke-dashoffset="2.5"/>
<text x="829.20" y="126.90" font-size="26.00" font-style="italic">a/b</text>
<text x="860.40" y="126.90" font-size="26.00">(</text>
<text x="0.00" y="0.00" font-size="26.00" transform="translate(869.6,126.9) scale(1.1,1)">&#937;</text>
<text x="889.20" y="126.90" font-size="26.00">)</text>
<text x="0.00" y="0.00" font-size="26.00" transform="translate(903.4,126.9) scale(1.1,1)">=</text>
<text x="924.80" y="126.90" font-size="26.00">0.14</text>
<path d="M873.4,104.9 H885.6" stroke="#231815" stroke-width="1.6"/>
<text x="0.00" y="0.00" font-size="24.00" transform="translate(736,218.5) scale(1.2,1)">&#963;</text>
<text x="751.60" y="223.00" font-size="12.60">abs</text>
<text x="0.00" y="0.00" font-size="26.00" transform="translate(712.2,335.9) scale(1.1,1)">&#937;</text>
<path d="M716,314.2 H728" stroke="#231815" stroke-width="1.5"/>
<path d="M722.3,349.3 V374" stroke="#231815" stroke-width="1.7"/>
<path d="M718.3,373.5 L726.3,373.5 L722.3,381 Z" fill="#231815"/>
</svg></body></html>
